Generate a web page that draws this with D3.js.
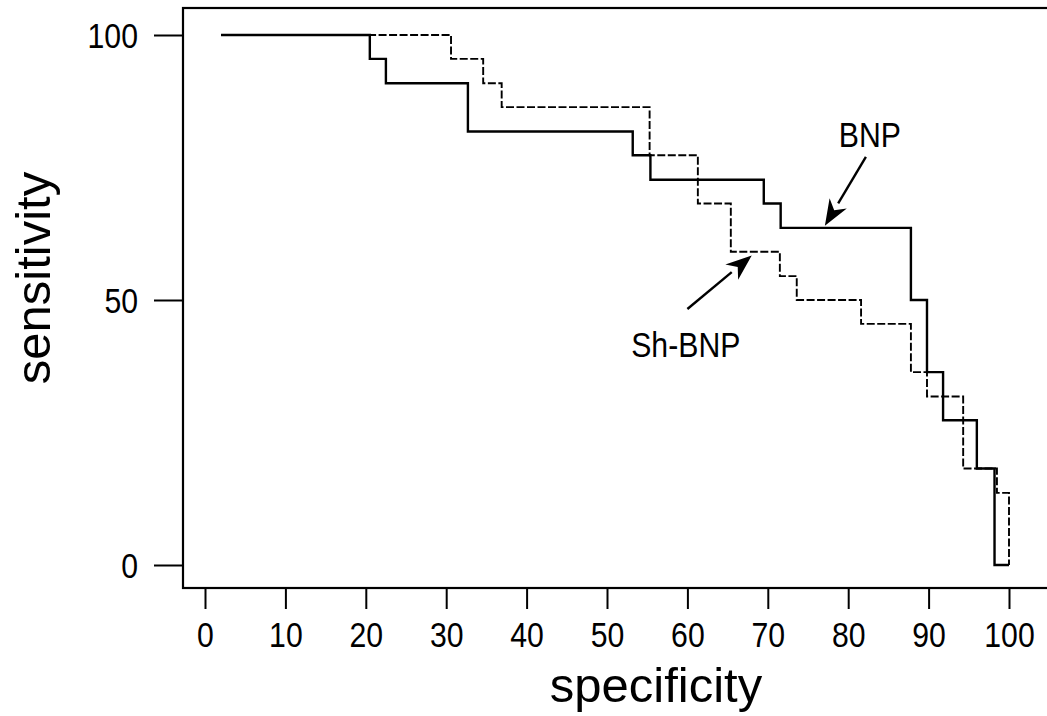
<!DOCTYPE html>
<html>
<head>
<meta charset="utf-8">
<script src="https://cdn.jsdelivr.net/npm/d3@7"></script>
<style>
  html, body { margin: 0; padding: 0; background: #fff; }
  svg text { fill: #000; font-family: "Liberation Sans", Arial, Helvetica, sans-serif; }
</style>
</head>
<body>
<svg id="chart" width="1047" height="716"></svg>
<script>
// ROC step curves (specificity %, sensitivity %)
const bnpSpec = [2, 20.5, 22.5, 32.7, 53.2, 55.4, 69.5, 71.6, 87.8, 89.8, 91.8, 96.0, 98.2, 100];
const bnpSens = [100, 95.5, 90.9, 81.8, 77.3, 72.7, 68.2, 63.6, 50.0, 36.4, 27.3, 18.2, 0, 0];

const shSpec = [2, 30.6, 34.6, 36.9, 55.3, 61.3, 65.4, 71.5, 73.6, 81.6, 87.8, 89.8, 94.3, 98.5, 100];
const shSens = [100, 95.5, 90.9, 86.4, 77.3, 68.2, 59.1, 54.5, 50.0, 45.5, 36.4, 31.8, 18.2, 13.6, 0];

const xTicks = [0, 10, 20, 30, 40, 50, 60, 70, 80, 90, 100];
const yTicks = [0, 50, 100];

// annotation anchors in data units: [label, textX, textY, tailX, tailY, tipX, tipY]
const labels = [
    ["BNP", 82.7, 78.9, 82.2, 77.0, 77.1, 64.0],
    ["Sh-BNP", 59.8, 39.2, 60.0, 48.3, 68.0, 58.4]
];

const squeeze = 0.84; // the scanned digits are tall and narrow

const svg = d3.select("#chart");

const x = d3.scaleLinear().domain([0, 100]).range([205, 1009]);
const y = d3.scaleLinear().domain([0, 100]).range([565, 35]);

// ─── frame ───
svg.append("rect")
    .attr("x", 183).attr("y", 8)
    .attr("width", 900).attr("height", 580)
    .attr("fill", "none")
    .attr("stroke", "#000")
    .attr("stroke-width", 2.2);

// ─── axes ───
svg.append("g")
    .attr("transform", "translate(0,588)")
    .call(d3.axisBottom(x).tickValues(xTicks).tickSize(21).tickPadding(4))
    .call(g => g.select(".domain").remove())
    .call(g => g.selectAll(".tick line").attr("stroke", "#000").attr("stroke-width", 2))
    .call(g => g.selectAll(".tick text")
        .attr("font-size", "36px")
        .attr("font-family", null)
        .attr("transform", `scale(${squeeze},1)`)
        .attr("dy", "0.95em"));

svg.append("g")
    .attr("transform", "translate(183,0)")
    .call(d3.axisLeft(y).tickValues(yTicks).tickSize(29).tickPadding(16))
    .call(g => g.select(".domain").remove())
    .call(g => g.selectAll(".tick line").attr("stroke", "#000").attr("stroke-width", 2))
    .call(g => g.selectAll(".tick text")
        .attr("font-size", "36px")
        .attr("font-family", null)
        .attr("x", -45 / squeeze)
        .attr("transform", `scale(${squeeze},1)`)
        .attr("dy", "0.36em"));

// axis titles
svg.append("text")
    .attr("transform", "translate(656,702)")
    .attr("text-anchor", "middle")
    .attr("font-size", "49px")
    .text("specificity");

svg.append("text")
    .attr("transform", "translate(50,278) rotate(-90)")
    .attr("text-anchor", "middle")
    .attr("font-size", "49px")
    .text("sensitivity");

// ─── curves ───
const step = d3.line()
    .x(d => x(d[0]))
    .y(d => y(d[1]))
    .curve(d3.curveStepAfter);

svg.append("path")
    .datum(shSpec.map((s, i) => [s, shSens[i]]))
    .attr("d", step)
    .attr("fill", "none")
    .attr("stroke", "#000")
    .attr("stroke-width", 1.9)
    .attr("stroke-dasharray", "8,2.5");

svg.append("path")
    .datum(bnpSpec.map((s, i) => [s, bnpSens[i]]))
    .attr("d", step)
    .attr("fill", "none")
    .attr("stroke", "#000")
    .attr("stroke-width", 2.4);

// ─── labels with arrows ───
labels.forEach(([txt, tx, ty, ax, ay, bx, by]) => {
    svg.append("text")
        .attr("transform", `translate(${x(tx)},${y(ty)}) scale(${squeeze},1)`)
        .attr("text-anchor", "middle")
        .attr("font-size", "36px")
        .text(txt);

    const x0 = x(ax), y0 = y(ay), x1 = x(bx), y1 = y(by);
    const ang = Math.atan2(y1 - y0, x1 - x0);
    const headLen = 26, headW = 10;
    const bxh = x1 - headLen * Math.cos(ang), byh = y1 - headLen * Math.sin(ang);

    svg.append("line")
        .attr("x1", x0).attr("y1", y0)
        .attr("x2", bxh).attr("y2", byh)
        .attr("stroke", "#000")
        .attr("stroke-width", 2.4);

    const px = -Math.sin(ang) * headW, py = Math.cos(ang) * headW;
    svg.append("path")
        .attr("d", `M${x1},${y1}L${bxh + px},${byh + py}L${bxh + 0.3 * headLen * Math.cos(ang)},${byh + 0.3 * headLen * Math.sin(ang)}L${bxh - px},${byh - py}Z`)
        .attr("fill", "#000");
});
</script>
</body>
</html>
